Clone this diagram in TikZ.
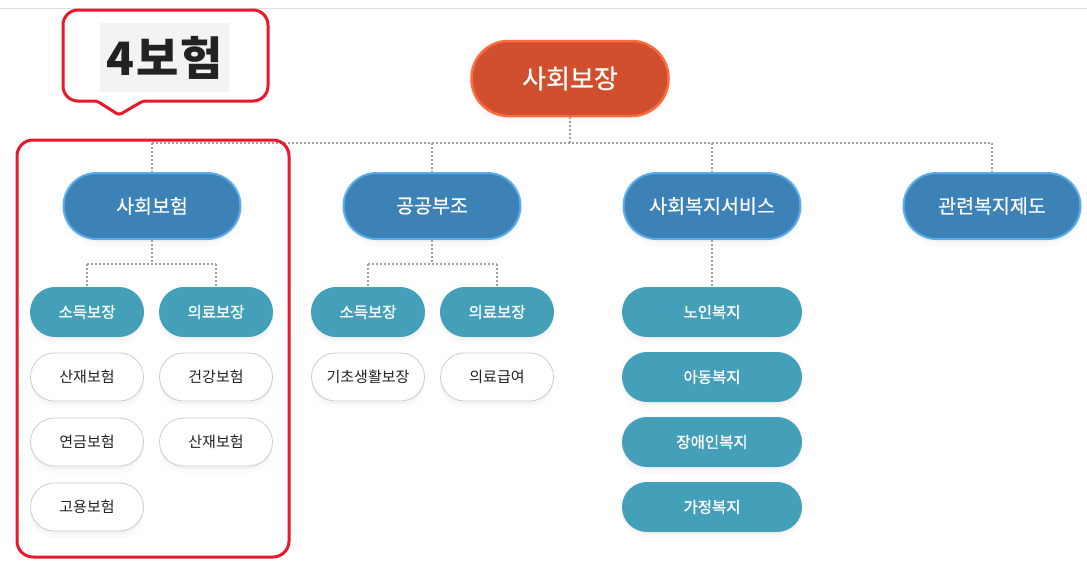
\documentclass[tikz,border=0pt]{standalone}
\usepackage{fontspec}
\setmainfont{Noto Sans CJK KR}
\newfontfamily\medfont[FakeBold=0.6]{Noto Sans CJK KR}
\newfontfamily\semifont[FakeBold=1.2]{Noto Sans CJK KR}
\newfontfamily\bigfont[LetterSpace=4]{Noto Sans CJK KR}
\usetikzlibrary{shadows}
\definecolor{rootfill}{HTML}{D04F2E}
\definecolor{rootedge}{HTML}{FF6A3F}
\definecolor{bluefill}{HTML}{3D82B6}
\definecolor{blueedge}{HTML}{5AAEEE}
\definecolor{tealfill}{HTML}{449FB9}
\definecolor{leafedge}{HTML}{CCCCCC}
\definecolor{callred}{HTML}{E8192C}
\definecolor{conngray}{HTML}{A0A0A0}
\definecolor{darktext}{HTML}{222222}
\definecolor{labelbg}{HTML}{F3F3F3}
\begin{document}
\begin{tikzpicture}[x=1pt,y=-1pt,
  softshadow/.style={
    preaction={fill=black, opacity=0.025, transform canvas={yshift=-3pt}},
    preaction={fill=black, opacity=0.02, transform canvas={yshift=-7pt}}},
  base/.style={rectangle, inner sep=0pt, align=center, softshadow},
  rootnode/.style={base, minimum width=197pt, minimum height=75pt, rounded corners=37pt,
    fill=rootfill, draw=rootedge, line width=2.5pt, text=white, font=\medfont\fontsize{26}{30}\selectfont},
  catnode/.style={base, minimum width=177pt, minimum height=66pt, rounded corners=33pt,
    fill=bluefill, draw=blueedge, line width=2pt, text=white, font=\medfont\fontsize{19.5}{23}\selectfont},
  subnode/.style={base, minimum width=114pt, minimum height=50pt, rounded corners=25pt,
    fill=tealfill, text=white, font=\semifont\fontsize{15.5}{19}\selectfont},
  wide/.style={minimum width=180pt},
  leafnode/.style={base, minimum width=113pt, minimum height=48pt, rounded corners=24pt,
    fill=white, draw=leafedge, line width=0.8pt, text=darktext, font=\fontsize{15}{19}\selectfont},
  conn/.style={draw=conngray, line width=1.8pt, dash pattern=on 1.8pt off 2.2pt},
  redline/.style={draw=callred, line width=3pt}
]
\useasboundingbox (0,0) rectangle (1087,568);
\fill[white] (0,0) rectangle (1087,568);
\draw[gray!25, line width=1pt] (0,8) -- (1087,8);

% root
\node[rootnode] (root) at (570,78.5) {사회보장};

% categories
\node[catnode] (c1) at (152,206) {사회보험};
\node[catnode] (c2) at (432,206) {공공부조};
\node[catnode] (c3) at (712,206) {사회복지서비스};
\node[catnode] (c4) at (992,206) {관련복지제도};

% sub nodes
\node[subnode] (s11) at (87,312) {소득보장};
\node[subnode] (s12) at (216,312) {의료보장};
\node[subnode] (s21) at (368,312) {소득보장};
\node[subnode] (s22) at (497,312) {의료보장};
\node[subnode,wide] (w1) at (712,312) {노인복지};
\node[subnode,wide] (w2) at (712,377) {아동복지};
\node[subnode,wide] (w3) at (712,442) {장애인복지};
\node[subnode,wide] (w4) at (712,507) {가정복지};

% leaves
\node[leafnode] (l1) at (87,377) {산재보험};
\node[leafnode] (l2) at (87,442) {연금보험};
\node[leafnode] (l3) at (87,507) {고용보험};
\node[leafnode] (l4) at (216,377) {건강보험};
\node[leafnode] (l5) at (216,442) {산재보험};
\node[leafnode] (l6) at (368,377) {기초생활보장};
\node[leafnode] (l7) at (497,377) {의료급여};

% connectors
\coordinate (j0) at (570,143);
\draw[conn] (root.south) -- (j0);
\draw[conn] (c1.north |- j0) -- (c4.north |- j0);
\foreach \c in {c1,c2,c3,c4} \draw[conn] (\c.north |- j0) -- (\c.north);

\coordinate (j1) at (152,264);
\draw[conn] (c1.south) -- (j1);
\draw[conn] (s11.north |- j1) -- (s12.north |- j1);
\draw[conn] (s11.north |- j1) -- (s11.north);
\draw[conn] (s12.north |- j1) -- (s12.north);

\coordinate (j2) at (432,264);
\draw[conn] (c2.south) -- (j2);
\draw[conn] (s21.north |- j2) -- (s22.north |- j2);
\draw[conn] (s21.north |- j2) -- (s21.north);
\draw[conn] (s22.north |- j2) -- (s22.north);

\draw[conn] (c3.south) -- (w1.north);

% red group box
\draw[redline, rounded corners=16pt] (17,140) rectangle (289,557);

% callout
\node[fill=labelbg, minimum width=129pt, minimum height=69pt, inner sep=0pt,
  text=darktext, font=\bigfont\bfseries\fontsize{46}{50}\selectfont] (lbl) at (164.5,57.5) {4보험};
\draw[redline] (119,115) [rounded corners=3pt] -- (143,101) [rounded corners=15pt] -- (268,101) -- (268,10) -- (63,10) -- (63,101) [rounded corners=3pt] -- (97,101) -- cycle;
\end{tikzpicture}
\end{document}
